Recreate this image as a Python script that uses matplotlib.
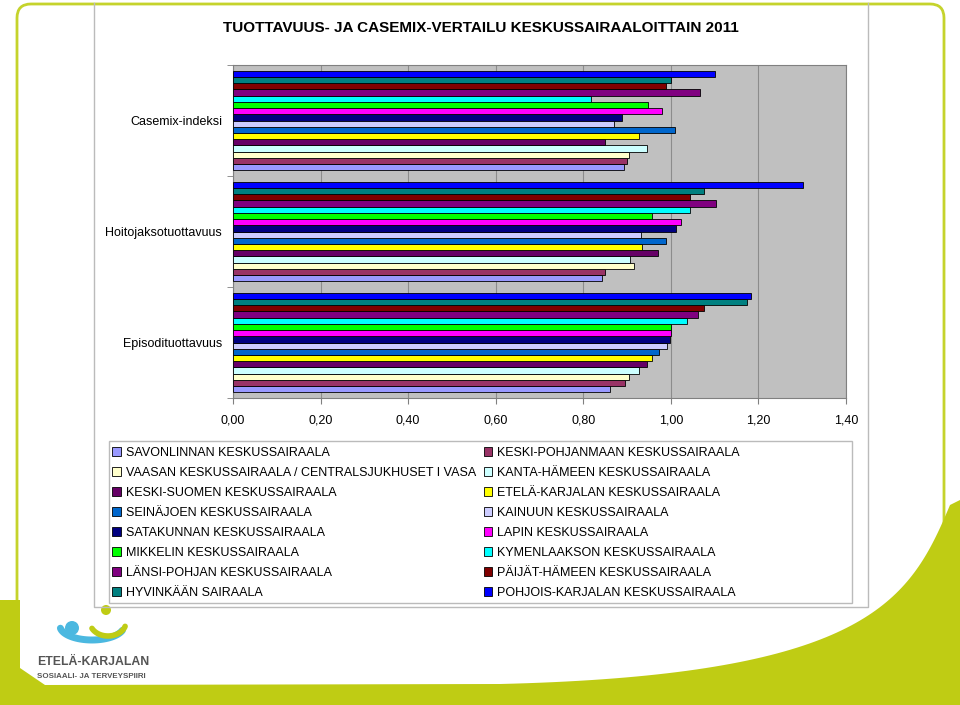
import matplotlib
matplotlib.use('Agg')
from matplotlib import pyplot as plt
from matplotlib.patches import Rectangle, FancyBboxPatch, Circle, Polygon
from matplotlib.ticker import FuncFormatter, MultipleLocator
import numpy as np

plt.rcParams['font.family'] = ['Liberation Sans', 'DejaVu Sans']

categories = ['Episodituottavuus', 'Hoitojaksotuottavuus', 'Casemix-indeksi']

hospitals = ['SAVONLINNAN KESKUSSAIRAALA',
             'KESKI-POHJANMAAN KESKUSSAIRAALA',
             'VAASAN KESKUSSAIRAALA / CENTRALSJUKHUSET I VASA',
             'KANTA-HÄMEEN KESKUSSAIRAALA',
             'KESKI-SUOMEN KESKUSSAIRAALA',
             'ETELÄ-KARJALAN KESKUSSAIRAALA',
             'SEINÄJOEN KESKUSSAIRAALA',
             'KAINUUN KESKUSSAIRAALA',
             'SATAKUNNAN KESKUSSAIRAALA',
             'LAPIN KESKUSSAIRAALA',
             'MIKKELIN KESKUSSAIRAALA',
             'KYMENLAAKSON KESKUSSAIRAALA',
             'LÄNSI-POHJAN KESKUSSAIRAALA',
             'PÄIJÄT-HÄMEEN KESKUSSAIRAALA',
             'HYVINKÄÄN SAIRAALA',
             'POHJOIS-KARJALAN KESKUSSAIRAALA']

colors = ['#9999FF', '#993366', '#FFFFCC', '#CCFFFF', '#660066', '#FFFF00',
          '#0066CC', '#CCCCFF', '#000080', '#FF00FF', '#00FF00', '#00FFFF',
          '#800080', '#800000', '#008080', '#0000FF']

# one value per hospital, same order as above
episodi = [0.861, 0.896, 0.904, 0.928, 0.946, 0.957, 0.973, 0.991,
           0.998, 1.001, 1.001, 1.038, 1.063, 1.076, 1.174, 1.182]
hoitojakso = [0.843, 0.850, 0.915, 0.906, 0.971, 0.935, 0.990, 0.931,
              1.012, 1.024, 0.957, 1.043, 1.102, 1.043, 1.076, 1.302]
casemix = [0.894, 0.900, 0.905, 0.946, 0.849, 0.927, 1.010, 0.870,
           0.888, 0.979, 0.948, 0.817, 1.067, 0.990, 1.000, 1.100]

W, H = 960, 705
fig = plt.figure(figsize=(9.6, 7.05), dpi=100)

# slide decoration in pixel coordinates
bg = fig.add_axes([0, 0, 1, 1])
bg.set_xlim(0, W)
bg.set_ylim(H, 0)
bg.axis('off')
lime = '#BFCC14'
bg.add_patch(FancyBboxPatch((17, 4), 927, 760, boxstyle='round,pad=0,rounding_size=14',
                            fc='white', ec='#C5D32C', lw=2))
# lime swoosh at the bottom (cubic curve)
t = np.linspace(0, 1, 80)[:, None]
P0, P1, P2, P3 = [np.array(p) for p in [(950, 505), (910, 600), (870, 675), (500, 684)]]
curve = (1 - t) ** 3 * P0 + 3 * (1 - t) ** 2 * t * P1 + 3 * (1 - t) * t ** 2 * P2 + t ** 3 * P3
swoosh = [(960, 500)] + [tuple(c) for c in curve] + [(45, 685), (20, 668), (20, 600),
                                                     (0, 600), (0, 705), (960, 705)]
bg.add_patch(Polygon(swoosh, closed=True, fc=lime, ec='none'))
# chart area frame
bg.plot([94, 94, 868, 868], [3, 607, 607, 3], color='#BBBBBB', lw=1)
# logo
bg.add_patch(Circle((72, 628), 7, fc='#4BB8E0', ec='none'))
a = np.linspace(np.pi * 1.05, np.pi * 1.9, 40)
bg.plot(92 + 32 * np.cos(a), 626 - 14 * np.sin(a), color='#4BB8E0', lw=5, solid_capstyle='round')
a2 = np.linspace(np.pi * 1.15, np.pi * 1.9, 40)
bg.plot(108 + 18 * np.cos(a2), 622 - 14 * np.sin(a2), color=lime, lw=4, solid_capstyle='round')
bg.add_patch(Circle((106, 610), 5, fc=lime, ec='none'))
bg.text(37, 662, 'ETELÄ-KARJALAN', fontsize=8.8, color='#555555', va='center', fontweight='bold')
bg.text(37, 676, 'SOSIAALI- JA TERVEYSPIIRI', fontsize=5.7, color='#555555', va='center', fontweight='bold')

# the chart
ax = fig.add_axes([233 / W, 1 - 398 / H, (846 - 233) / W, (398 - 65) / H])
ax.set_facecolor('#C0C0C0')
n = len(hospitals)
bh = 0.9 / n
y = np.arange(len(categories))
handles = []
for i in range(n):
    vals = [episodi[i], hoitojakso[i], casemix[i]]
    pos = y - 0.45 + bh * (i + 0.5)
    b = ax.barh(pos, vals, height=bh, color=colors[i], edgecolor='black', linewidth=0.6,
                label=hospitals[i], zorder=3)
    handles.append(b)

ax.set_xlim(0, 1.4)
ax.set_ylim(-0.5, 2.5)
ax.xaxis.set_major_locator(MultipleLocator(0.2))
ax.xaxis.set_major_formatter(FuncFormatter(lambda v, p: ('%.2f' % v).replace('.', ',')))
ax.grid(axis='x', color='#8C8C8C', lw=0.8, zorder=1)
ax.set_yticks(y)
ax.set_yticklabels(categories)
ax.set_yticks([-0.5, 0.5, 1.5, 2.5], minor=True)
ax.tick_params(axis='y', which='major', length=0, pad=8, labelsize=9)
ax.tick_params(axis='y', which='minor', length=4, color='#808080')
ax.tick_params(axis='x', length=4, color='#808080', pad=8, labelsize=9)
for s in ax.spines.values():
    s.set_color('#808080')
    s.set_linewidth(0.8)

fig.text(481 / W, 1 - 28 / H, 'TUOTTAVUUS- JA CASEMIX-VERTAILU KESKUSSAIRAALOITTAIN 2011',
         ha='center', va='center', fontsize=11, fontweight='bold')

# legend: left column odd series, right column even series
order = list(range(0, n, 2)) + list(range(1, n, 2))
bg.add_patch(Rectangle((109, 441), 743, 162, fc='white', ec='#BBBBBB', lw=1))
leg = fig.legend([handles[k] for k in order], [hospitals[k] for k in order], ncol=2,
                 loc='upper left', bbox_to_anchor=(107 / W, 1 - 442 / H), frameon=False,
                 fontsize=9, handlelength=0.7, handleheight=0.7, handletextpad=0.4,
                 labelspacing=0.64, columnspacing=0.6, borderaxespad=0, borderpad=0.4)

fig.savefig('out.png', dpi=100)
